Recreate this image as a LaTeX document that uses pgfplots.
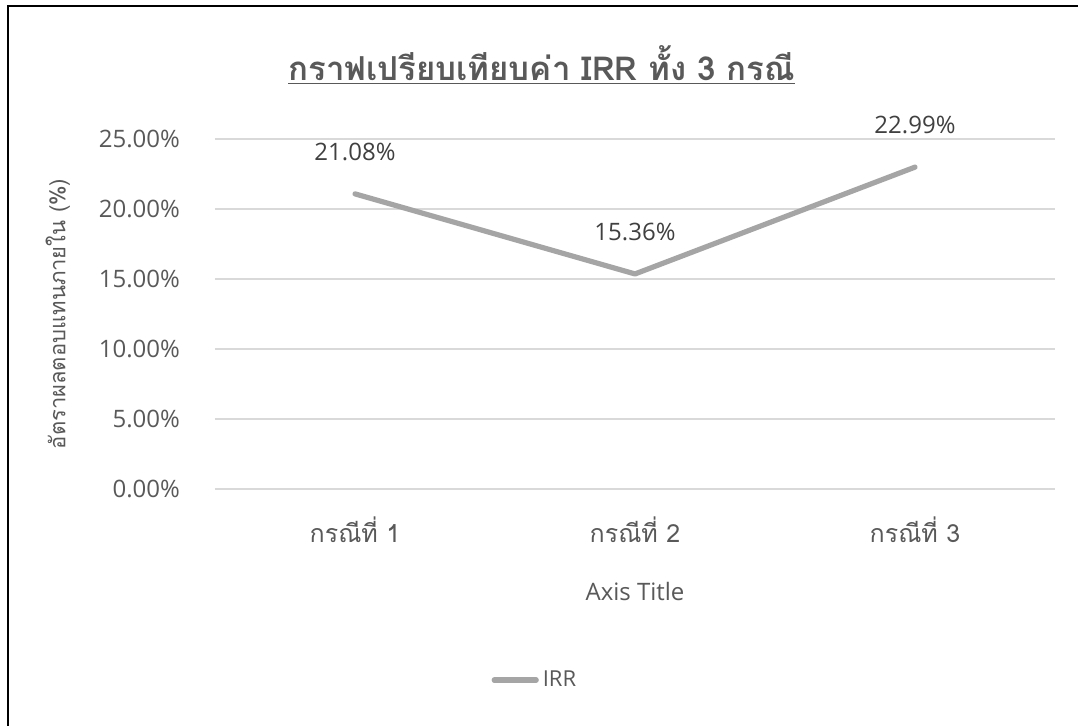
\documentclass[border=0pt]{standalone}
\usepackage{fontspec}
\usepackage{pgfplots}
\pgfplotsset{compat=1.18}
\setmainfont{Open Sans}
\newfontfamily\thaifont[Script=Thai]{Loma}
\definecolor{txt}{HTML}{595959}
\definecolor{lbl}{HTML}{404040}
\definecolor{gridc}{HTML}{D9D9D9}
\definecolor{linec}{HTML}{A5A5A5}

\begin{document}
\begin{tikzpicture}
\useasboundingbox (0,0) rectangle (539pt,363pt);
\fill[white] (0,0) rectangle (539pt,363pt);
% chart frame (left and top edges)
\draw[line width=1pt] (3.75pt,0) -- (3.75pt,360pt) -- (539pt,360pt);
\begin{axis}[
  at={(107.5pt,118.5pt)}, anchor=south west,
  scale only axis, width=420pt, height=175pt,
  xmin=-0.5, xmax=2.5, ymin=0, ymax=25,
  xtick={0,1,2},
  xticklabels={{\thaifont กรณีที่ 1},{\thaifont กรณีที่ 2},{\thaifont กรณีที่ 3}},
  ytick={0,5,10,15,20,25},
  yticklabel={\pgfmathprintnumber[fixed,fixed zerofill,precision=2]{\tick}\%},
  /pgf/number format/assume math mode=true,
  axis line style={draw=none},
  tick style={draw=none},
  ymajorgrids,
  grid style={gridc, line width=0.75pt},
  ticklabel style={text=txt},
  yticklabel style={font=\fontsize{12}{14}\selectfont, xshift=-14pt},
  xticklabel style={font=\fontsize{12.5}{15}\selectfont, anchor=center, yshift=-20.5pt},
  xlabel={Axis Title},
  xlabel style={at={(axis description cs:0.5,-0.294)}, anchor=center,
                font=\fontsize{12}{14}\selectfont, text=txt},
  ylabel={\thaifont อัตราผลตอบแทนภายใน (\%)},
  ylabel style={at={(axis description cs:-0.187,0.5)}, anchor=center,
                font=\fontsize{11}{13}\selectfont, text=txt},
  title={\thaifont\bfseries\underline{กราฟเปรียบเทียบค่า IRR ทั้ง 3 กรณี}},
  title style={at={(axis description cs:0.389,1.177)}, anchor=center,
               font=\fontsize{16.5}{20}\selectfont, text=txt},
  legend style={at={(axis description cs:0.382,-0.546)}, anchor=center,
                draw=none, fill=none, font=\fontsize{11}{13}\selectfont, text=txt,
                inner sep=0pt},
  legend image code/.code={\draw[#1, line cap=round] (0pt,0pt) -- (21pt,0pt);},
  legend cell align=left,
  clip=false,
]
\addplot[linec, line width=2.6pt, line join=round, line cap=round,
  nodes near coords={\pgfmathprintnumber[fixed,fixed zerofill,precision=2]{\pgfplotspointmeta}\%},
  point meta=y,
  nodes near coords style={anchor=center, yshift=21pt, text=lbl,
                           font=\fontsize{12}{14}\selectfont}]
  coordinates {(0,21.08) (1,15.36) (2,22.99)};
\addlegendentry{IRR}
\end{axis}
\end{tikzpicture}
\end{document}
